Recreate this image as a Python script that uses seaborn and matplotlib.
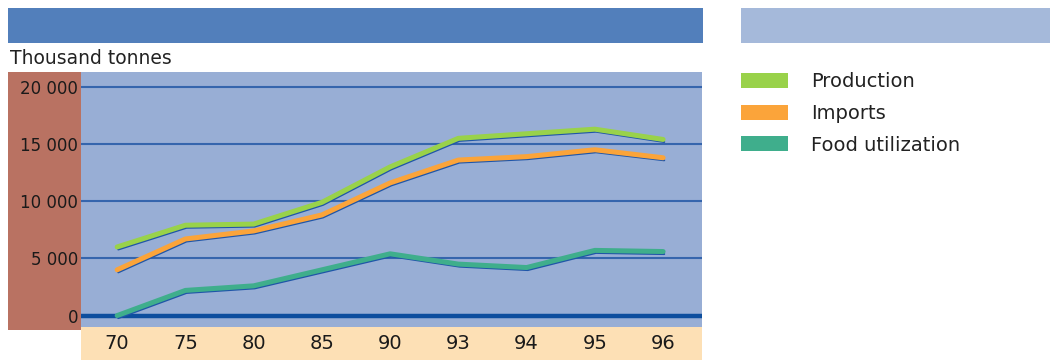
import matplotlib
matplotlib.use("Agg")
import matplotlib.pyplot as plt
import matplotlib.patheffects as pe
from matplotlib.patches import Rectangle, Patch
import seaborn as sns
import pandas as pd

years = ["70", "75", "80", "85", "90", "93", "94", "95", "96"]
production = [6000, 7900, 8000, 9900, 13000, 15500, 15900, 16300, 15400]
imports = [4000, 6700, 7400, 8800, 11600, 13600, 13900, 14500, 13800]
food_utilization = [0, 2200, 2600, 4000, 5400, 4500, 4200, 5700, 5600]
series_names = ["Production", "Imports", "Food utilization"]
series_colors = ["#99d24a", "#fba43a", "#3fae8c"]
y_ticks = [0, 5000, 10000, 15000, 20000]
y_tick_labels = ["0", "5 000", "10 000", "15 000", "20 000"]
y_unit = "Thousand tonnes"

df = pd.DataFrame({
    "year": years * 3,
    "value": production + imports + food_utilization,
    "series": [series_names[0]] * 9 + [series_names[1]] * 9 + [series_names[2]] * 9,
})

sns.set_theme(style="white")
plt.rcParams["font.family"] = ["DejaVu Sans"]

W, H = 1056, 360
fig = plt.figure(figsize=(W / 100, H / 100), dpi=100)

def frect(x0, y0, x1, y1, color):
    fig.patches.append(Rectangle((x0 / W, 1 - y1 / H), (x1 - x0) / W, (y1 - y0) / H,
                                 transform=fig.transFigure, facecolor=color,
                                 edgecolor="none", zorder=-5))

frect(8, 8, 703, 43, "#527fbb")
frect(741, 8, 1050, 43, "#a5b9da")
frect(8, 72, 81, 330, "#b97262")
frect(81, 327, 702, 360, "#fde0b5")

ax = fig.add_axes([81 / W, 1 - 327 / H, (702 - 81) / W, (327 - 72) / H])
ax.set_zorder(2)
ax.set_facecolor("#98aed5")

for yv in y_ticks[1:]:
    ax.axhline(yv, color="#3565ad", lw=1.5, zorder=1)
ax.axhline(0, color="#0d4e9e", lw=3.2, zorder=1)

sns.lineplot(data=df, x="year", y="value", hue="series", palette=series_colors,
             hue_order=series_names, sort=False, legend=False, lw=3.6, ax=ax,
             zorder=3,
             path_effects=[pe.SimpleLineShadow(offset=(0.8, -1.8), shadow_color="#1f55a8",
                                               alpha=1, linewidth=1.5),
                           pe.Normal()])

ax.set_xlim(-0.53, 8.57)
ax.set_ylim(-1000, 21300)
ax.set_yticks(y_ticks)
ax.set_yticklabels(y_tick_labels)
ax.tick_params(axis="y", length=0, pad=2, labelsize=12, labelcolor="#1a1a1a")
ax.tick_params(axis="x", length=0, pad=5, labelsize=14, labelcolor="#1a1a1a")
ax.set_xlabel("")
ax.set_ylabel("")
for s in ax.spines.values():
    s.set_visible(False)

fig.text(10 / W, 1 - 59 / H, y_unit, fontsize=13.5, color="#222222", va="center", ha="left")

handles = [Patch(facecolor=c, edgecolor="none") for c in series_colors]
fig.legend(handles, series_names, loc="upper left", bbox_to_anchor=(741 / W, 1 - 72 / H),
           frameon=False, fontsize=14, handlelength=2.42, handleheight=0.82,
           handletextpad=1.2, labelspacing=0.66, borderaxespad=0, borderpad=0,
           labelcolor="#222222")

fig.savefig("out.png", dpi=100)
